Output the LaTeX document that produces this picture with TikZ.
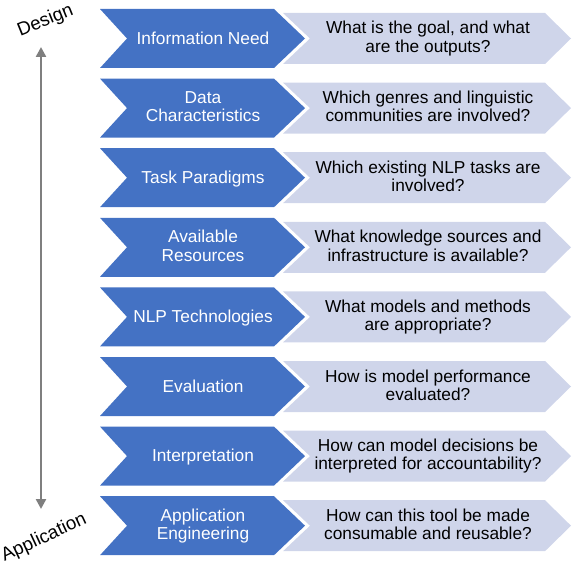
\documentclass[tikz,border=0pt]{standalone}
\usepackage{fontspec}
\setmainfont{Liberation Sans}
\usetikzlibrary{arrows.meta}
\definecolor{chblue}{HTML}{4472C4}
\definecolor{chlight}{HTML}{CFD5EA}
\definecolor{axisgray}{HTML}{7F7F7F}
\newcommand{\lnstrut}{\rule[-3pt]{0pt}{18pt}}
\tikzset{
  boxtext/.style={align=center, font=\fontsize{17.3}{18.2}\selectfont, inner sep=0pt,
    execute at begin node=\lnstrut, execute at end node=\lnstrut},
  bluetext/.style={boxtext, text=white},
  lighttext/.style={boxtext, text=black},
  sidetext/.style={text=black, font=\fontsize{18.7}{19}\selectfont, inner sep=0pt},
  axisline/.style={draw=axisgray, line width=2.4pt, {Triangle[width=10pt,length=10pt]}-{Triangle[width=10pt,length=10pt]}}
}
\newcommand{\chrow}[4]{%
  \fill[chblue] (100,#1-29.5) -- (274,#1-29.5) -- (305,#1) -- (274,#1+29.5) -- (100,#1+29.5) -- (127,#1) -- cycle;
  \fill[chlight] (283,#1-25.5) -- (545,#1-25.5) -- (571,#1) -- (545,#1+25.5) -- (283,#1+25.5) -- (310,#1) -- cycle;
  \node[bluetext] (b#4) at (203,#1) {#2};
  \node[lighttext] (q#4) at (428,#1) {#3};
}
\begin{document}
\begin{tikzpicture}[x=1pt,y=-1pt]
\useasboundingbox (0,0) rectangle (572,564);
\chrow{38.5}{Information Need}{What is the goal, and what\\are the outputs?}{1}
\chrow{108.1}{Data\\Characteristics}{Which genres and linguistic\\communities are involved?}{2}
\chrow{177.7}{Task Paradigms}{Which existing NLP tasks are\\involved?}{3}
\chrow{247.3}{Available\\Resources}{What knowledge sources and\\infrastructure is available?}{4}
\chrow{316.9}{NLP Technologies}{What models and methods\\are appropriate?}{5}
\chrow{386.5}{Evaluation}{How is model performance\\evaluated?}{6}
\chrow{456.1}{Interpretation}{How can model decisions be\\interpreted for accountability?}{7}
\chrow{525.7}{Application\\Engineering}{How can this tool be made\\consumable and reusable?}{8}
\coordinate (atop) at (41,47);
\coordinate (abot) at (41,509);
\draw[axisline] (atop) -- (abot);
\node[sidetext, rotate=22] (design) at (45.5,21) {Design};
\node[sidetext, rotate=25] (appl) at (44,538) {Application};
\end{tikzpicture}
\end{document}
